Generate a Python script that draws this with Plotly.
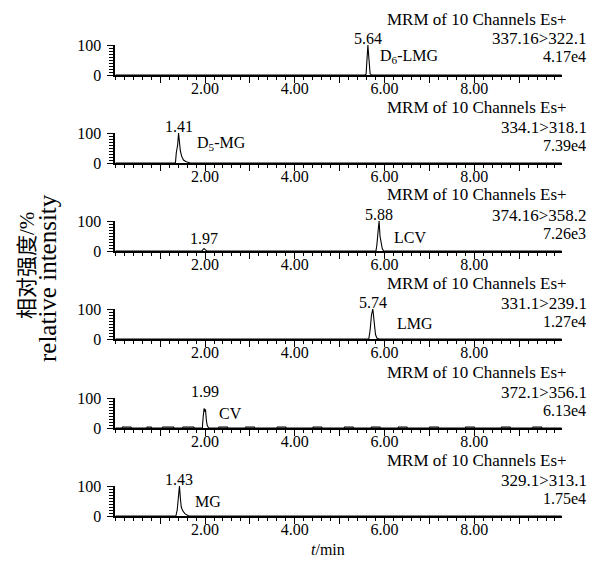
import plotly.graph_objects as go

# ---------------- data ----------------
channels = ["337.16>322.1", "334.1>318.1", "374.16>358.2", "331.1>239.1", "372.1>356.1", "329.1>313.1"]
intensities = ["4.17e4", "7.39e4", "7.26e3", "1.27e4", "6.13e4", "1.75e4"]
compounds = ["D<sub>6</sub>-LMG", "D<sub>5</sub>-MG", "LCV", "LMG", "CV", "MG"]
peak_times = [[5.64], [1.41], [1.97, 5.88], [5.74], [1.99], [1.43]]
peak_labels = [["5.64"], ["1.41"], ["1.97", "5.88"], ["5.74"], ["1.99"], ["1.43"]]
x_tick_vals = [1, 2, 3, 4, 5, 6, 7, 8, 9]
x_tick_text = [" ", "2.00", " ", "4.00", " ", "6.00", " ", "8.00", " "]
y_tick_vals = [0, 100]
y_tick_text = ["0", "100"]

# chromatogram traces (time / min, relative intensity / %)
t1 = [0.0, 5.56, 5.59, 5.61, 5.63, 5.645, 5.66, 5.68, 5.71, 9.95]
y1 = [0, 0, 3, 40, 100, 70, 20, 4, 0, 0]

t2 = [0.0, 1.34, 1.36, 1.39, 1.41, 1.43, 1.45, 1.48, 1.52, 1.57, 1.62, 1.67, 9.95]
y2 = [0, 0, 35, 60, 100, 70, 40, 22, 10, 5, 2, 0, 0]

t3 = [0.0, 1.93, 1.96, 1.98, 2.01, 2.04, 5.81, 5.83, 5.86, 5.88, 5.90, 5.92, 5.95, 5.98, 9.95]
y3 = [0, 0, 6, 8, 4, 0, 0, 20, 70, 100, 50, 30, 8, 0, 0]

t4 = [0.0, 5.65, 5.68, 5.71, 5.74, 5.77, 5.80, 5.83, 5.88, 9.95]
y4 = [0, 0, 30, 80, 100, 60, 15, 3, 0, 0]

t5 = [0.0, 0.15, 0.16, 0.35, 0.36, 0.7, 0.71, 0.8, 0.81, 1.05, 1.06, 1.3, 1.31, 1.5, 1.51, 1.75, 1.76,
      1.94, 1.96, 1.98, 1.99, 2.01, 2.03, 2.05, 2.08,
      2.3, 2.31, 2.5, 2.51, 2.9, 2.91, 3.1, 3.11, 3.6, 3.61, 3.8, 3.81, 4.4, 4.41, 4.6, 4.61,
      5.1, 5.11, 5.3, 5.31, 5.7, 5.71, 5.9, 5.91, 6.3, 6.31, 6.5, 6.51, 7.0, 7.01, 7.2, 7.21,
      7.8, 7.81, 8.0, 8.01, 8.6, 8.61, 8.8, 8.81, 9.3, 9.31, 9.5, 9.51, 9.95]
y5 = [0, 0, 3, 3, 0, 0, 3, 3, 0, 0, 3, 3, 0, 0, 3, 3, 0,
      0, 40, 66, 55, 62, 25, 8, 0,
      0, 3, 3, 0, 0, 3, 3, 0, 0, 3, 3, 0, 0, 3, 3, 0,
      0, 3, 3, 0, 0, 3, 3, 0, 0, 3, 3, 0, 0, 3, 3, 0,
      0, 3, 3, 0, 0, 3, 3, 0, 0, 3, 3, 0, 0]

t6 = [0.0, 1.35, 1.38, 1.41, 1.43, 1.45, 1.47, 1.50, 1.55, 1.60, 1.64, 9.95]
y6 = [0, 0, 20, 65, 100, 60, 30, 18, 8, 3, 0, 0]

times = [t1, t2, t3, t4, t5, t6]
values = [y1, y2, y3, y4, y5, y6]

# ---------------- layout helpers ----------------
W, H = 599, 562
def px(x):
    return x / W
def py(y):
    return 1 - y / H

FONT = "Liberation Serif"
x_left, x_right = 115.3, 561.7
bottoms = [75, 163, 251, 339, 428, 516]
panel_h = 30
comp_pos = [(378, 18), (195, 20), (392, 14), (395, 16), (217, 15), (193, 15)]

fig = go.Figure()
layout = dict(
    width=W, height=H,
    margin=dict(l=0, r=0, t=0, b=0, pad=0),
    paper_bgcolor="white", plot_bgcolor="white",
    showlegend=False,
    font=dict(family=FONT, size=16, color="black"),
)
annotations = []

for i in range(6):
    n = "" if i == 0 else str(i + 1)
    xa, ya = "x" + n, "y" + n
    fig.add_trace(go.Scatter(x=times[i], y=values[i], mode="lines",
                             line=dict(color="black", width=1.1),
                             xaxis=xa, yaxis=ya, hoverinfo="skip"))
    b = bottoms[i]
    layout["xaxis" + n] = dict(
        domain=[px(x_left), px(x_right)], range=[0, 9.95], anchor=ya,
        automargin=False,
        showline=True, linecolor="black", linewidth=1.8,
        showgrid=False, zeroline=False,
        ticks="outside", ticklen=6, tickwidth=1, tickcolor="black",
        tickvals=x_tick_vals, ticktext=x_tick_text, ticklabelstandoff=-8,
        tickfont=dict(family=FONT, size=16, color="black"),
        minor=dict(ticks="outside", ticklen=3, tickwidth=1, tickcolor="black",
                   dtick=0.2, tick0=0, showgrid=False),
        fixedrange=True,
    )
    layout["yaxis" + n] = dict(
        domain=[py(b), py(b - panel_h)], range=[0, 100], anchor=xa,
        automargin=False,
        showline=True, linecolor="black", linewidth=1.8,
        showgrid=False, zeroline=False,
        ticks="outside", ticklen=6, tickwidth=1, tickcolor="black",
        tickvals=y_tick_vals, ticktext=y_tick_text, ticklabelstandoff=3,
        tickfont=dict(family=FONT, size=16, color="black"),
        minor=dict(ticks="outside", ticklen=4, tickwidth=1, tickcolor="black",
                   dtick=10, tick0=0, showgrid=False),
        fixedrange=True,
    )
    # header texts
    annotations.append(dict(text="MRM of 10 Channels Es+", x=px(569), y=py(b - 56),
                            xref="paper", yref="paper", xanchor="right", yanchor="middle",
                            showarrow=False, font=dict(family=FONT, size=17, color="black")))
    annotations.append(dict(text=channels[i], x=px(589), y=py(b - 36),
                            xref="paper", yref="paper", xanchor="right", yanchor="middle",
                            showarrow=False, font=dict(family=FONT, size=17, color="black")))
    annotations.append(dict(text=intensities[i], x=px(588), y=py(b - 18),
                            xref="paper", yref="paper", xanchor="right", yanchor="middle",
                            showarrow=False, font=dict(family=FONT, size=16, color="black")))
    # peak labels
    for j, (pt, pl) in enumerate(zip(peak_times[i], peak_labels[i])):
        dy = 37
        if i == 2 and j == 0:
            dy = 13
        annotations.append(dict(text=pl, x=pt, y=py(b - dy), xref=xa, yref="paper",
                                xanchor="center", yanchor="middle", showarrow=False,
                                font=dict(family=FONT, size=16, color="black")))
    # compound label
    cx, cdy = comp_pos[i]
    annotations.append(dict(text=compounds[i], x=px(cx), y=py(b - cdy),
                            xref="paper", yref="paper", xanchor="left", yanchor="middle",
                            showarrow=False, font=dict(family=FONT, size=16, color="black")))

# axis titles
annotations.append(dict(text="相对强度/%", x=px(27), y=py(266), xref="paper", yref="paper",
                        xanchor="center", yanchor="middle", textangle=-90, showarrow=False,
                        font=dict(family="Liberation Serif, Noto Sans CJK SC", size=21, color="black")))
annotations.append(dict(text="relative intensity", x=px(47), y=py(278), xref="paper", yref="paper",
                        xanchor="center", yanchor="middle", textangle=-90, showarrow=False,
                        font=dict(family=FONT, size=25, color="black")))
annotations.append(dict(text="<i>t</i>/min", x=px(328), y=py(549), xref="paper", yref="paper",
                        xanchor="center", yanchor="middle", showarrow=False,
                        font=dict(family=FONT, size=16, color="black")))

layout["annotations"] = annotations
fig.update_layout(**layout)
fig.write_html("out.html", config={"displayModeBar": False},
               post_script="document.body.style.margin='0px';")
